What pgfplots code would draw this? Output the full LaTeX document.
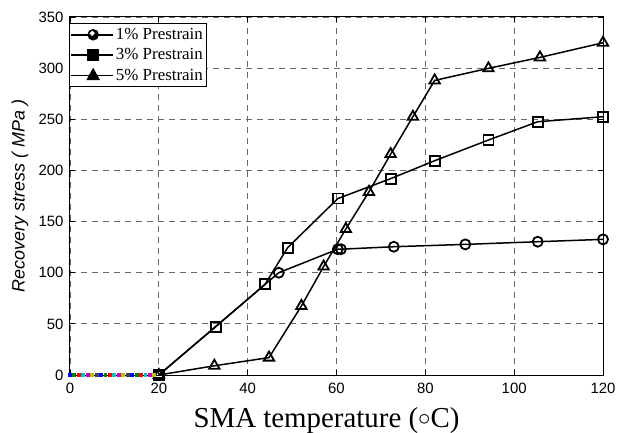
\documentclass[border=0pt]{standalone}
\usepackage{fontspec}
\setmainfont{Liberation Serif}
\setsansfont{Liberation Sans}
\usepackage{pgfplots}
\pgfplotsset{compat=1.18}
\definecolor{mb}{rgb}{0,0,1}
\definecolor{mg}{rgb}{0,0.5,0}
\definecolor{mr}{rgb}{1,0,0}
\definecolor{mc}{rgb}{0,0.75,0.75}
\definecolor{mm}{rgb}{0.75,0,0.75}
\definecolor{my}{rgb}{0.75,0.75,0}
\definecolor{mk}{rgb}{0.25,0.25,0.25}
\begin{document}
\begin{tikzpicture}
\begin{axis}[
  scale only axis,
  width=533bp, height=358bp,
  xmin=0, xmax=120, ymin=0, ymax=350,
  xtick={0,20,...,120}, ytick={0,50,...,350},
  tick align=inside, major tick length=5bp,
  grid=major,
  major grid style={gray!80!black, dash pattern=on 6bp off 5bp, line width=0.8bp},
  axis line style={line width=1bp},
  tick style={line width=0.8bp, black},
  /pgf/number format/assume math mode=true,
  ticklabel style={font=\sffamily\fontsize{15}{17}\selectfont},
  xticklabel style={yshift=-5bp},
  yticklabel style={xshift=-3bp},
  xlabel={SMA temperature (\raisebox{0.1ex}{$\circ$}C)},
  xlabel style={font=\rmfamily\fontsize{29}{32}\selectfont, at={(axis description cs:0.5,0)}, anchor=base, yshift=-52bp, xshift=-10bp},
  ylabel={\textit{Recovery stress ( MPa )}},
  ylabel style={font=\sffamily\fontsize{18}{20}\selectfont, at={(axis description cs:0,0.5)}, anchor=center, yshift=50bp},
  legend style={at={(rel axis cs:0,1)}, anchor=north west, yshift=-6bp, xshift=-1bp,
    draw=black, line width=0.8bp, font=\rmfamily\fontsize{17}{19}\selectfont,
    inner ysep=3bp, inner xsep=1bp, row sep=3.5bp, cells={anchor=west}},
  legend cell align=left,
  every axis plot/.append style={line width=1.5bp},
]
\addplot[black, mark=o, mark size=5bp, mark options={solid, line width=1.8bp},
  legend image code/.code={\draw[black,line width=1.5bp] (0bp,0bp) -- (42bp,0bp);
   \fill[black] (22bp,0bp) circle (5bp); \fill[white] (21bp,1.5bp) circle (1.6bp);}]
  coordinates {(20,0) (47,100) (60.3,123) (61,123) (72.9,125.4) (89,127.7) (105.3,130.3) (120,132.6)};
\addlegendentry{1\% Prestrain}
\addplot[black, mark=square, mark size=5bp, mark options={solid, line width=1.8bp},
  legend image code/.code={\draw[black,line width=1.5bp] (0bp,0bp) -- (42bp,0bp);
   \fill[black] (17bp,-5bp) rectangle (27bp,5bp);}]
  coordinates {(20,0) (32.8,47.2) (43.9,88.6) (49,124.5) (60.3,172.5) (72.2,192) (82.1,209.5) (94.2,229.7) (105.3,247.6) (120,252.5)};
\addlegendentry{3\% Prestrain}
\addplot[black, mark=triangle, mark size=6bp, mark options={solid, line width=1.8bp},
  legend image code/.code={\draw[black,line width=1.5bp] (0bp,0bp) -- (42bp,0bp);
   \fill[black] (22bp,6bp) -- (16.5bp,-4bp) -- (27.5bp,-4bp) -- cycle;}]
  coordinates {(20,0) (32.5,9) (44.8,17) (52.1,67.5) (57.1,106) (62.1,142.7) (67.3,179) (72.2,216) (77.2,252.5) (82.1,288) (94.2,299.8) (105.8,310.5) (120,324.8)};
\addlegendentry{5\% Prestrain}
\addplot[only marks, mark=square*, mark size=1.2bp, color=mb, forget plot] coordinates {(0,0) (7,0) (14,0)};
\addplot[only marks, mark=square*, mark size=1.2bp, color=mg, forget plot] coordinates {(1,0) (8,0) (15,0)};
\addplot[only marks, mark=square*, mark size=1.2bp, color=mr, forget plot] coordinates {(2,0) (9,0) (16,0)};
\addplot[only marks, mark=square*, mark size=1.2bp, color=mc, forget plot] coordinates {(3,0) (10,0) (17,0)};
\addplot[only marks, mark=square*, mark size=1.2bp, color=mm, forget plot] coordinates {(4,0) (11,0) (18,0)};
\addplot[only marks, mark=square*, mark size=1.2bp, color=my, forget plot] coordinates {(5,0) (12,0) (19,0)};
\addplot[only marks, mark=square*, mark size=1.2bp, color=mk, forget plot] coordinates {(6,0) (13,0)};
\end{axis}
\pgfresetboundingbox
\path ([xshift=-70bp,yshift=-58bp]current axis.south west) rectangle ([xshift=14bp,yshift=17bp]current axis.north east);
\end{tikzpicture}
\end{document}
